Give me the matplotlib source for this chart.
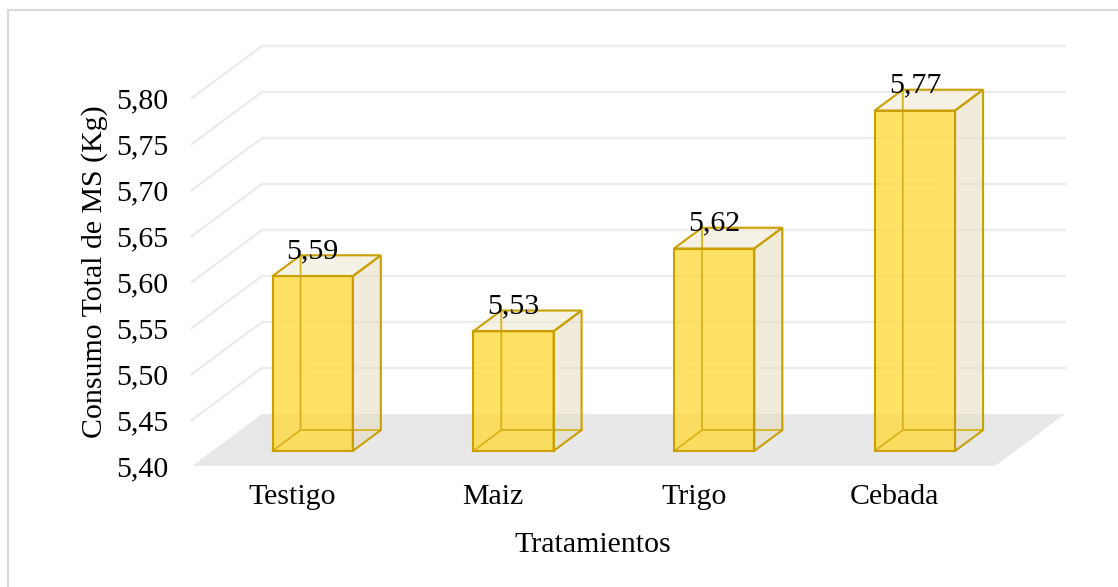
import matplotlib
matplotlib.use("Agg")
import matplotlib.pyplot as plt
from matplotlib.patches import Polygon, Rectangle

# data
categorias = ["Testigo", "Maiz", "Trigo", "Cebada"]
consumo = [5.59, 5.53, 5.62, 5.77]
yticks = [5.40, 5.45, 5.50, 5.55, 5.60, 5.65, 5.70, 5.75, 5.80]

plt.rcParams["font.family"] = ["Liberation Serif", "DejaVu Serif"]
fs = 21.5

W, H = 1118, 587
fig = plt.figure(figsize=(W / 100, H / 100), dpi=100)

# fake 3d: depth offset in data units
ddx = 70 / 200.75
ddy = 52 / 920
y0 = yticks[0]
z0, z1 = 0.29, 0.69   # bar front/back depth fraction
bw = 0.4

ax = fig.add_axes([192 / W, (H - 466) / H, 873 / W, 420 / H])
ax.set_xlim(-0.5, len(categorias) - 0.5 + ddx)
ax.set_ylim(y0, yticks[-1] + ddy)
for s in ax.spines.values():
    s.set_visible(False)

grid_c = "#EBEBEB"
x_left = -0.5
x_right = len(categorias) - 0.5
for v in yticks[1:]:
    ax.plot([x_left, x_left + ddx, x_right + ddx], [v, v + ddy, v + ddy],
            color=grid_c, lw=1.6, zorder=1, clip_on=False)

# floor
ax.add_patch(Polygon([(x_left, y0), (x_right, y0), (x_right + ddx, y0 + ddy),
                      (x_left + ddx, y0 + ddy)], closed=True,
                     facecolor="#E8E8E8", edgecolor="none", zorder=2))

edge = "#C9A000"
inner = "#D8B21A"
for i, v in enumerate(consumo):
    fx0 = i - bw / 2 + z0 * ddx
    fx1 = i + bw / 2 + z0 * ddx
    fyb = y0 + z0 * ddy
    fyt = v + z0 * ddy
    dx = (z1 - z0) * ddx
    dy = (z1 - z0) * ddy
    front = [(fx0, fyb), (fx1, fyb), (fx1, fyt), (fx0, fyt)]
    side = [(fx1, fyb), (fx1 + dx, fyb + dy), (fx1 + dx, fyt + dy), (fx1, fyt)]
    top = [(fx0, fyt), (fx1, fyt), (fx1 + dx, fyt + dy), (fx0 + dx, fyt + dy)]
    ax.add_patch(Polygon(front, closed=True, facecolor="#FFD932", alpha=0.75,
                         edgecolor="none", zorder=3))
    ax.add_patch(Polygon(side, closed=True, facecolor="#E6DFC4", alpha=0.6,
                         edgecolor="none", zorder=3))
    ax.add_patch(Polygon(top, closed=True, facecolor="#EDE6CC", alpha=0.5,
                         edgecolor="none", zorder=3))
    # hidden edges seen through
    ax.plot([fx0, fx0 + dx, fx0 + dx], [fyb, fyb + dy, fyt + dy],
            color=inner, lw=1.3, zorder=4)
    ax.plot([fx0 + dx, fx1 + dx], [fyb + dy, fyb + dy], color=inner, lw=1.3, zorder=4)
    for poly in (front, side, top):
        ax.add_patch(Polygon(poly, closed=True, facecolor="none",
                             edgecolor=edge, lw=1.5, zorder=5))
    ax.annotate(f"{v:.2f}".replace(".", ","), (i + z0 * ddx, fyt),
                xytext=(0, 13), textcoords="offset points",
                ha="center", va="baseline", fontsize=fs, zorder=6)

ax.set_yticks(yticks)
ax.set_yticklabels([f"{t:.2f}".replace(".", ",") for t in yticks], fontsize=fs)
ax.set_xticks(range(len(categorias)))
ax.set_xticklabels(categorias, fontsize=fs)
ax.tick_params(axis="y", length=0, pad=17)
ax.tick_params(axis="x", length=0, pad=13)

fig.text(593 / W, 1 - 545 / H, "Tratamientos", ha="center", va="center", fontsize=fs)
fig.text(95 / W, 1 - 272 / H, "Consumo Total de MS (Kg)", rotation=90,
         ha="center", va="center", fontsize=fs)

# chart area border
fig.patches.append(Rectangle((8 / W, -0.1), 1.2, 1 - 10 / H + 0.1,
                             transform=fig.transFigure, fill=False,
                             edgecolor="#D9D9D9", lw=1.5))

fig.savefig("out.png", dpi=100)
